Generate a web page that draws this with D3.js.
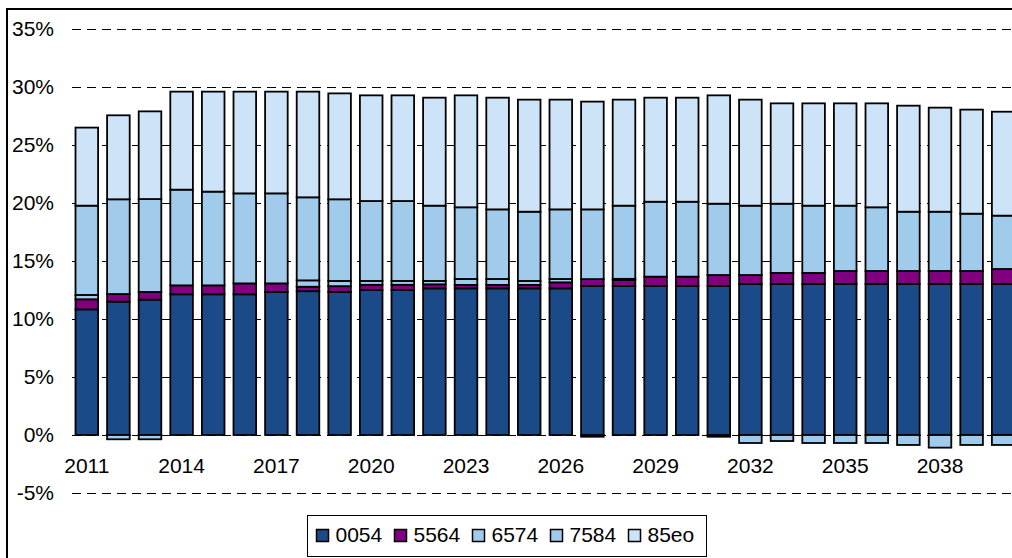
<!DOCTYPE html>
<html>
<head>
<meta charset="utf-8">
<script src="https://cdn.jsdelivr.net/npm/d3@7"></script>
<style>
  html, body { margin: 0; padding: 0; background: #fff; overflow: hidden; }
  text { font-family: "Liberation Sans", Arial, sans-serif; fill: #000; }
</style>
</head>
<body>
<svg id="chart" width="1012" height="558"></svg>
<script>
// Categories (years) and the share of each age group, in percent
const years = [2011, 2012, 2013, 2014, 2015, 2016, 2017, 2018, 2019, 2020,
               2021, 2022, 2023, 2024, 2025, 2026, 2027, 2028, 2029, 2030,
               2031, 2032, 2033, 2034, 2035, 2036, 2037, 2038, 2039, 2040];

const share0054 = [10.83, 11.50, 11.67, 12.13, 12.13, 12.13, 12.33, 12.40, 12.33, 12.50,
                   12.50, 12.64, 12.64, 12.64, 12.64, 12.64, 12.84, 12.84, 12.84, 12.84,
                   12.84, 13.02, 13.02, 13.02, 13.02, 13.02, 13.02, 13.02, 13.02, 13.02];
const share5564 = [0.87, 0.65, 0.66, 0.77, 0.77, 0.94, 0.74, 0.38, 0.50, 0.45,
                   0.45, 0.35, 0.30, 0.30, 0.30, 0.52, 0.60, 0.52, 0.81, 0.81,
                   0.95, 0.77, 0.95, 0.95, 1.12, 1.12, 1.12, 1.12, 1.12, 1.29];
const share6574 = [0.37, -0.37, -0.37, 0, 0, 0, 0, 0.55, 0.45, 0.33,
                   0.33, 0.29, 0.51, 0.51, 0.34, 0.29, -0.15, 0.10, 0, 0,
                   -0.15, -0.69, -0.52, -0.69, -0.69, -0.69, -0.86, -1.09, -0.86, -0.86];
const share7584 = [7.70, 8.17, 8.01, 8.25, 8.08, 7.76, 7.76, 7.16, 7.04, 6.89,
                   6.89, 6.49, 6.18, 6.00, 5.97, 6.00, 6.01, 6.31, 6.46, 6.46,
                   6.15, 5.98, 5.97, 5.80, 5.63, 5.49, 5.11, 5.11, 4.94, 4.60];
const share85eo = [6.73, 7.24, 7.56, 8.45, 8.62, 8.77, 8.77, 9.11, 9.13, 9.11,
                   9.11, 9.31, 9.65, 9.63, 9.66, 9.46, 9.29, 9.14, 8.97, 8.97,
                   9.34, 9.14, 8.65, 8.82, 8.82, 8.96, 9.14, 8.97, 8.97, 8.96];

const seriesKeys = ["0054", "5564", "6574", "7584", "85eo"];
const seriesColors = ["#1B4A88", "#800080", "#A0CBEA", "#A0CBEA", "#CCE3F8"];

const yTicks = [-5, 0, 5, 10, 15, 20, 25, 30, 35];
const xTickYears = [2011, 2014, 2017, 2020, 2023, 2026, 2029, 2032, 2035, 2038];

// Table for the stack layout
const rows = years.map((yr, i) => ({
  year: yr,
  "0054": share0054[i],
  "5564": share5564[i],
  "6574": share6574[i],
  "7584": share7584[i],
  "85eo": share85eo[i]
}));

const svg = d3.select("#chart");

const plotLeft = 71, plotRight = 1019;
const x = d3.scaleBand()
  .domain(years)
  .range([plotLeft, plotRight])
  .paddingInner(0.285)
  .paddingOuter(0.1425);

const y = d3.scaleLinear().domain([-5, 35]).range([493, 29]);

const color = d3.scaleOrdinal().domain(seriesKeys).range(seriesColors);

// Outer frame
svg.append("rect")
  .attr("x", 7).attr("y", 9)
  .attr("width", 1100).attr("height", 1000)
  .attr("fill", "none").attr("stroke", "#000").attr("stroke-width", 2);

// Dashed gridlines
const grid = svg.append("g")
  .attr("transform", `translate(${plotLeft + 1},0)`)
  .call(d3.axisRight(y).tickValues(yTicks).tickSize(plotRight - plotLeft).tickFormat(""));
grid.select(".domain").remove();
grid.selectAll(".tick line")
  .attr("stroke", "#000").attr("stroke-width", 1)
  .attr("stroke-dasharray", "9,6");

// Y-axis labels
const yAxis = svg.append("g")
  .attr("transform", "translate(54,0)")
  .call(d3.axisLeft(y).tickValues(yTicks).tickSize(0).tickPadding(0).tickFormat(d => d + "%"));
yAxis.select(".domain").remove();
yAxis.selectAll("text")
  .attr("font-size", 21)
  .attr("font-family", "Liberation Sans, Arial, sans-serif")
  .attr("fill", "#000");

// Stacked bars (negative shares stack below zero)
const stacked = d3.stack().keys(seriesKeys).offset(d3.stackOffsetDiverging)(rows);

svg.append("g")
  .selectAll("g")
  .data(stacked)
  .join("g")
  .attr("fill", d => color(d.key))
  .selectAll("rect")
  .data(d => d.filter(s => s[0] !== s[1]))
  .join("rect")
  .attr("x", d => x(d.data.year))
  .attr("width", x.bandwidth())
  .attr("y", d => y(Math.max(d[0], d[1])))
  .attr("height", d => Math.abs(y(d[0]) - y(d[1])))
  .attr("stroke", "#000")
  .attr("stroke-width", 1.8);

// X-axis labels
const xAxis = svg.append("g")
  .attr("transform", `translate(0,${y(0)})`)
  .call(d3.axisBottom(x).tickValues(xTickYears).tickSize(0).tickPadding(23));
xAxis.select(".domain").remove();
xAxis.selectAll("text")
  .attr("font-size", 21)
  .attr("font-family", "Liberation Sans, Arial, sans-serif")
  .attr("fill", "#000");

// Legend
const legend = svg.append("g").attr("transform", "translate(307,515)");
legend.append("rect")
  .attr("x", 0.5).attr("y", 0.5)
  .attr("width", 399).attr("height", 41)
  .attr("fill", "#fff").attr("stroke", "#000").attr("stroke-width", 1);

const items = legend.selectAll("g.item")
  .data(seriesKeys)
  .join("g")
  .attr("class", "item")
  .attr("transform", (d, i) => `translate(${9.5 + i * 78},14.5)`);
items.append("rect")
  .attr("width", 12).attr("height", 12)
  .attr("fill", d => color(d))
  .attr("stroke", "#000").attr("stroke-width", 1.5);
items.append("text")
  .attr("x", 19).attr("y", 12.5)
  .attr("font-size", 21)
  .text(d => d);
</script>
</body>
</html>
